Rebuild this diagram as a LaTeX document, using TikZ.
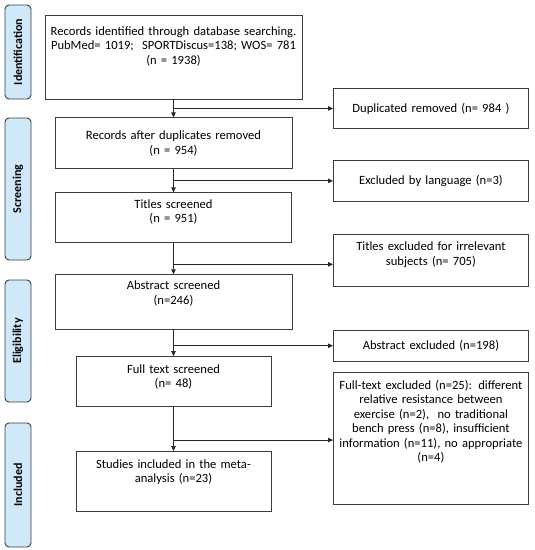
\documentclass[tikz,border=0pt]{standalone}
\usepackage{fontspec}
\setmainfont{Carlito}
\usetikzlibrary{%
  arrows.meta,
  positioning,
  calc}
\definecolor{stagefill}{RGB}{208,233,250}
\definecolor{boxline}{RGB}{60,60,60}
\tikzset{
  %% Main flow boxes
  flowbox/.style={
    rectangle, draw=boxline, line width=0.9pt, fill=white,
    align=center, inner xsep=3pt,
    font=\fontsize{12.6}{14.5}\selectfont},
  %% Exclusion boxes (right column)
  exbox/.style={
    flowbox, text width=189pt},
  %% PRISMA stage labels
  stagebox/.style={
    rectangle, rounded corners=4pt,
    draw=boxline, line width=0.9pt, fill=stagefill,
    minimum height=26pt, rotate=90,
    font=\fontsize{12}{14}\selectfont\bfseries},
  %% Arrows
  arrow/.style={-{Triangle[length=5pt,width=4.5pt]}, line width=0.8pt, black!85},
}

\begin{document}
\begin{tikzpicture}
  \useasboundingbox (0,0) rectangle (535pt,-550pt);

  %% Stage labels
  \node[stagebox, minimum width=94pt]  (stid)  at (18pt,-52pt)  {Identification};
  \node[stagebox, minimum width=142pt] (stscr) at (18pt,-189pt) {Screening};
  \node[stagebox, minimum width=122pt] (stel)  at (18pt,-341pt) {Eligibility};
  \node[stagebox, minimum width=124pt] (stinc) at (18pt,-485pt) {Included};

  %% Main column
  \node[flowbox, text width=251pt, minimum height=84pt, text depth=52pt] (ident) at (173.5pt,-57pt)
    {Records identified through database searching.\\
     PubMed= 1019;\ \ SPORTDiscus=138; WOS= 781\\(n = 1938)};
  \node[flowbox, text width=231pt, minimum height=51pt, below=18pt of ident] (dedup)
    {Records after duplicates removed\\(n = 954)};
  \node[flowbox, text width=230pt, minimum height=50pt, text depth=27.5pt, below=23pt of dedup] (titles)
    {Titles screened\\(n = 951)};
  \node[flowbox, text width=231pt, minimum height=55pt, text depth=33.5pt, below=31pt of titles] (abstr)
    {Abstract screened\\(n=246)};
  \node[flowbox, text width=189pt, minimum height=50pt, text depth=25.5pt, below=26pt of abstr] (fulltxt)
    {Full text screened\\(n= 48)};
  \node[flowbox, text width=189pt, minimum height=60pt, text depth=35.5pt, below=44pt of fulltxt] (incl)
    {Studies included in the meta-\\analysis (n=23)};

  %% Branch points
  \coordinate (b1) at ($(ident.south)!0.5!(dedup.north)$);
  \coordinate (b2) at ($(dedup.south)!0.5!(titles.north)$);
  \coordinate (b3) at ($(titles.south)!0.68!(abstr.north)$);
  \coordinate (b4) at ($(abstr.south)!0.6!(fulltxt.north)$);
  \coordinate (b5) at ($(fulltxt.south)!0.75!(incl.north)$);

  %% Exclusion column
  \node[exbox, minimum height=40pt, right=159.5pt of b1] (exdup)
    {Duplicated removed (n= 984\ )};
  \node[exbox, minimum height=41pt, right=159.5pt of b2] (exlang)
    {Excluded by language (n=3)};
  \node[exbox, minimum height=52pt, text depth=27.5pt, right=159.5pt of b3, yshift=4pt] (extitle)
    {Titles excluded for irrelevant\\subjects (n= 705)};
  \node[exbox, minimum height=132pt, text depth=107pt, right=159.5pt of b5, yshift=2pt] (exfull)
    {Full-text excluded (n=25): different\\relative resistance between\\
     exercise (n=2),\ \ no traditional\\bench press (n=8), insufficient\\
     information (n=11), no appropriate\\(n=4)};
  \node[exbox, minimum height=31pt, right=159.5pt of b4] (exabs)
    {Abstract excluded (n=198)};

  %% Flow arrows
  \draw[arrow] (ident) -- (dedup);
  \draw[arrow] (dedup) -- (titles);
  \draw[arrow] (titles) -- (abstr);
  \draw[arrow] (abstr) -- (fulltxt);
  \draw[arrow] (fulltxt) -- (incl);

  \draw[arrow] (b1) -- (b1 -| exdup.west);
  \draw[arrow] (b2) -- (b2 -| exlang.west);
  \draw[arrow] (b3) -- (b3 -| extitle.west);
  \draw[arrow] (b4) -- (b4 -| exabs.west);
  \draw[arrow] (b5) -- (b5 -| exfull.west);

\end{tikzpicture}
\end{document}
